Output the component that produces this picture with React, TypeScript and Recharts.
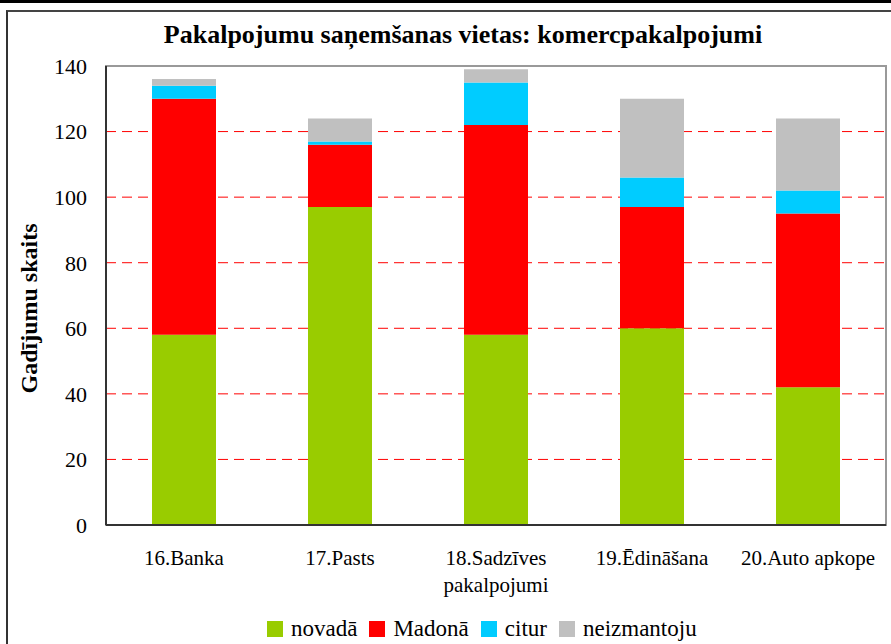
import React from 'react';
import {
  BarChart, Bar, XAxis, YAxis, CartesianGrid, Legend, ReferenceArea,
} from 'recharts';

// categories and values
const categories = ['16.Banka', '17.Pasts', '18.Sadzīves\npakalpojumi', '19.Ēdināšana', '20.Auto apkope'];
const novada = [58, 97, 58, 60, 42];
const madona = [72, 19, 64, 37, 53];
const citur = [4, 1, 13, 9, 7];
const neizmantoju = [2, 7, 4, 24, 22];
const yTicks = [0, 20, 40, 60, 80, 100, 120, 140];
const gridValues = [20, 40, 60, 80, 100, 120];

const data = categories.map((name, i) => ({
  name,
  novada: novada[i],
  madona: madona[i],
  citur: citur[i],
  neizmantoju: neizmantoju[i],
}));

const SERIES = [
  { key: 'novada', label: 'novadā', color: '#99CC00' },
  { key: 'madona', label: 'Madonā', color: '#FF0000' },
  { key: 'citur', label: 'citur', color: '#00CCFF' },
  { key: 'neizmantoju', label: 'neizmantoju', color: '#C0C0C0' },
];

const FONT = '"Liberation Serif", "Times New Roman", serif';

const CategoryTick = (props: any) => {
  const { x, y, payload } = props;
  const lines = String(payload.value).split('\n');
  return (
    <text x={x} y={y + 32} textAnchor="middle" style={{ fontFamily: FONT, fontSize: 21 }} fill="#000">
      {lines.map((line, i) => (
        <tspan key={i} x={x} dy={i === 0 ? 0 : 27}>{line}</tspan>
      ))}
    </text>
  );
};

const YLabel = (props: any) => {
  const { viewBox } = props;
  const cy = viewBox.y + viewBox.height / 2 + 13;
  return (
    <text
      transform={`translate(29, ${cy}) rotate(-90)`}
      textAnchor="middle"
      dominantBaseline="central"
      style={{ fontFamily: FONT, fontSize: 24, fontWeight: 'bold' }}
      fill="#000"
    >
      Gadījumu skaits
    </text>
  );
};

const LegendContent = (props: any) => {
  const items = [...(props.payload || [])].sort(
    (a: any, b: any) => SERIES.findIndex((s) => s.key === a.dataKey) - SERIES.findIndex((s) => s.key === b.dataKey),
  );
  return (
    <div style={{ display: 'flex', alignItems: 'center', height: 30, fontFamily: FONT, fontSize: 23, color: '#000', whiteSpace: 'nowrap' }}>
      {items.map((it: any) => (
        <div key={it.dataKey} style={{ display: 'flex', alignItems: 'center', marginRight: 12 }}>
          <span style={{ display: 'inline-block', width: 16, height: 16, background: it.color, marginRight: 8 }} />
          <span>{it.value}</span>
        </div>
      ))}
    </div>
  );
};

export default function App() {
  return (
    <div style={{ position: 'absolute', left: 0, top: 0, width: 891, height: 644, background: '#fff', overflow: 'hidden', fontFamily: FONT }}>
      {/* outer frame */}
      <div style={{ position: 'absolute', left: 0, top: 0, width: 891, height: 3, background: '#000' }} />
      <div style={{ position: 'absolute', left: 6, top: 10, width: 900, height: 700, borderLeft: '2px solid #333', borderTop: '2px solid #444' }} />
      <div
        style={{
          position: 'absolute', left: 0, top: 20, width: 926, textAlign: 'center',
          fontSize: 26, fontWeight: 'bold', color: '#000',
        }}
      >
        Pakalpojumu saņemšanas vietas: komercpakalpojumi
      </div>
      <div style={{ position: 'absolute', left: 0, top: 0 }}>
        <BarChart
          width={891}
          height={644}
          data={data}
          margin={{ top: 66, right: 5, bottom: 0, left: 46 }}
          barSize={64}
          style={{ fontFamily: FONT }}
        >
          <CartesianGrid vertical={false} stroke="#FF0000" strokeDasharray="10 6" horizontalValues={gridValues} />
          <XAxis
            dataKey="name"
            height={89}
            tickLine={false}
            axisLine={{ stroke: '#333', strokeWidth: 2 }}
            tick={<CategoryTick />}
            interval={0}
          />
          <YAxis
            width={60}
            domain={[0, 140]}
            ticks={yTicks}
            tickLine={false}
            tickSize={0}
            tickMargin={19}
            axisLine={{ stroke: '#333', strokeWidth: 2 }}
            tick={{ fontFamily: FONT, fontSize: 22, fill: '#000' }}
            label={{ content: <YLabel /> }}
          />
          {SERIES.map((s) => (
            <Bar
              key={s.key}
              dataKey={s.key}
              name={s.label}
              stackId="a"
              fill={s.color}
              isAnimationActive={false}
            />
          ))}
          <ReferenceArea y1={0} y2={140} fill="none" stroke="#999" strokeWidth={2} ifOverflow="visible" />
          <Legend
            verticalAlign="bottom"
            align="left"
            height={30}
            wrapperStyle={{ left: 267, width: 520 }}
            content={<LegendContent />}
          />
        </BarChart>
      </div>
    </div>
  );
}
